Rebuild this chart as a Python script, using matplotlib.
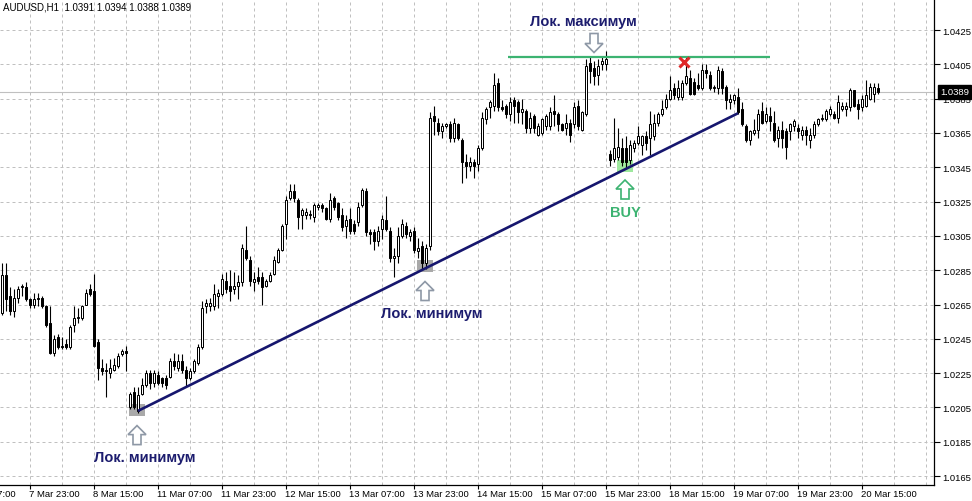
import matplotlib
matplotlib.use('Agg')
import matplotlib.pyplot as plt
import matplotlib.transforms as mtransforms
from matplotlib.patches import Polygon, Rectangle
import numpy as np

# AUDUSD H1, свечи по порядку (индекс бара)
opens = [1.0260, 1.0282, 1.0270, 1.0261, 1.0269, 1.0275, 1.0275, 1.0268, 1.0265, 1.0268,
         1.0269, 1.0264, 1.0254, 1.0237, 1.0246, 1.0240, 1.0242, 1.0240, 1.0253, 1.0257,
         1.0257, 1.0265, 1.0274, 1.0273, 1.0243, 1.0228, 1.0226, 1.0225, 1.0227, 1.0229,
         1.0236, 1.0238, 1.0205, 1.0214, 1.0203, 1.0213, 1.0218, 1.0225, 1.0219, 1.0224,
         1.0222, 1.0222, 1.0223, 1.0232, 1.0228, 1.0232, 1.0227, 1.0222, 1.0226, 1.0231,
         1.0240, 1.0264, 1.0264, 1.0264, 1.0270, 1.0271, 1.0279, 1.0276, 1.0274, 1.0276,
         1.0278, 1.0297, 1.0291, 1.0278, 1.0281, 1.0281, 1.0276, 1.0279, 1.0283, 1.0290,
         1.0297, 1.0312, 1.0327, 1.0331, 1.0326, 1.0317, 1.0317, 1.0317, 1.0316, 1.0322,
         1.0323, 1.0321, 1.0315, 1.0327, 1.0324, 1.0317, 1.0311, 1.0315, 1.0312, 1.0313,
         1.0323, 1.0331, 1.0307, 1.0307, 1.0302, 1.0309, 1.0314, 1.0308, 1.0292, 1.0293,
         1.0305, 1.0311, 1.0305, 1.0308, 1.0296, 1.0299, 1.0289, 1.0299, 1.0375, 1.0371,
         1.0366, 1.0369, 1.0370, 1.0362, 1.0370, 1.0361, 1.0348, 1.0346, 1.0348, 1.0347,
         1.0356, 1.0373, 1.0380, 1.0381, 1.0394, 1.0380, 1.0381, 1.0376, 1.0384, 1.0383,
         1.0377, 1.0378, 1.0368, 1.0375, 1.0364, 1.0365, 1.0369, 1.0369, 1.0378, 1.0376,
         1.0370, 1.0368, 1.0371, 1.0370, 1.0381, 1.0367, 1.0376, 1.0406, 1.0403, 1.0399,
         1.0405, 1.0405, 1.0353, 1.0350, 1.0351, 1.0356, 1.0356, 1.0349, 1.0356, 1.0359,
         1.0358, 1.0363, 1.0362, 1.0363, 1.0371, 1.0376, 1.0380, 1.0385, 1.0391, 1.0386,
         1.0386, 1.0394, 1.0397, 1.0395, 1.0393, 1.0391, 1.0402, 1.0399, 1.0391, 1.0391,
         1.0401, 1.0392, 1.0383, 1.0384, 1.0386, 1.0379, 1.0369, 1.0361, 1.0365, 1.0367,
         1.0378, 1.0372, 1.0375, 1.0371, 1.0362, 1.0367, 1.0366, 1.0366, 1.0369, 1.0368,
         1.0364, 1.0367, 1.0361, 1.0364, 1.0370, 1.0373, 1.0373, 1.0376, 1.0376, 1.0374,
         1.0379, 1.0379, 1.0380, 1.0390, 1.0382, 1.0380, 1.0381, 1.0385, 1.0388, 1.0391]
highs = [1.0289, 1.0289, 1.0275, 1.0274, 1.0276, 1.0277, 1.0278, 1.0269, 1.0272, 1.0272,
         1.0270, 1.0265, 1.0264, 1.0247, 1.0248, 1.0246, 1.0245, 1.0253, 1.0264, 1.0263,
         1.0265, 1.0274, 1.0277, 1.0283, 1.0245, 1.0233, 1.0231, 1.0233, 1.0234, 1.0237,
         1.0239, 1.0241, 1.0214, 1.0217, 1.0217, 1.0222, 1.0227, 1.0227, 1.0227, 1.0226,
         1.0223, 1.0224, 1.0234, 1.0237, 1.0236, 1.0236, 1.0229, 1.0228, 1.0233, 1.0242,
         1.0267, 1.0268, 1.0269, 1.0277, 1.0274, 1.0283, 1.0284, 1.0285, 1.0284, 1.0282,
         1.0300, 1.0311, 1.0293, 1.0284, 1.0287, 1.0284, 1.0280, 1.0284, 1.0293, 1.0298,
         1.0312, 1.0328, 1.0335, 1.0335, 1.0327, 1.0321, 1.0321, 1.0320, 1.0324, 1.0324,
         1.0324, 1.0322, 1.0330, 1.0328, 1.0325, 1.0321, 1.0317, 1.0321, 1.0314, 1.0325,
         1.0333, 1.0333, 1.0309, 1.0309, 1.0311, 1.0317, 1.0328, 1.0310, 1.0298, 1.0310,
         1.0315, 1.0313, 1.0309, 1.0310, 1.0304, 1.0302, 1.0300, 1.0377, 1.0381, 1.0374,
         1.0371, 1.0371, 1.0372, 1.0374, 1.0371, 1.0362, 1.0353, 1.0351, 1.0350, 1.0358,
         1.0377, 1.0380, 1.0384, 1.0400, 1.0397, 1.0384, 1.0382, 1.0386, 1.0386, 1.0384,
         1.0385, 1.0379, 1.0377, 1.0376, 1.0371, 1.0374, 1.0376, 1.0380, 1.0387, 1.0377,
         1.0371, 1.0376, 1.0373, 1.0383, 1.0384, 1.0378, 1.0408, 1.0409, 1.0407, 1.0408,
         1.0409, 1.0413, 1.0355, 1.0374, 1.0368, 1.0362, 1.0363, 1.0361, 1.0361, 1.0369,
         1.0364, 1.0366, 1.0378, 1.0376, 1.0377, 1.0384, 1.0388, 1.0398, 1.0394, 1.0396,
         1.0396, 1.0409, 1.0402, 1.0397, 1.0400, 1.0405, 1.0405, 1.0401, 1.0393, 1.0404,
         1.0403, 1.0393, 1.0388, 1.0388, 1.0391, 1.0383, 1.0370, 1.0367, 1.0373, 1.0379,
         1.0383, 1.0380, 1.0380, 1.0378, 1.0369, 1.0372, 1.0368, 1.0371, 1.0373, 1.0370,
         1.0369, 1.0369, 1.0368, 1.0372, 1.0374, 1.0376, 1.0379, 1.0381, 1.0378, 1.0387,
         1.0383, 1.0383, 1.0391, 1.0390, 1.0385, 1.0387, 1.0396, 1.0394, 1.0394, 1.0394]
lows = [1.0259, 1.0261, 1.0259, 1.0258, 1.0266, 1.0270, 1.0267, 1.0263, 1.0263, 1.0264,
        1.0263, 1.0252, 1.0236, 1.0235, 1.0239, 1.0239, 1.0239, 1.0239, 1.0249, 1.0254,
        1.0256, 1.0265, 1.0270, 1.0240, 1.0221, 1.0224, 1.0211, 1.0222, 1.0226, 1.0228,
        1.0235, 1.0226, 1.0204, 1.0204, 1.0202, 1.0212, 1.0217, 1.0216, 1.0217, 1.0218,
        1.0217, 1.0216, 1.0222, 1.0227, 1.0226, 1.0225, 1.0217, 1.0221, 1.0225, 1.0230,
        1.0239, 1.0260, 1.0261, 1.0262, 1.0263, 1.0270, 1.0272, 1.0267, 1.0271, 1.0268,
        1.0276, 1.0291, 1.0276, 1.0273, 1.0277, 1.0265, 1.0275, 1.0278, 1.0282, 1.0289,
        1.0296, 1.0303, 1.0326, 1.0325, 1.0309, 1.0309, 1.0315, 1.0315, 1.0313, 1.0320,
        1.0319, 1.0314, 1.0313, 1.0320, 1.0314, 1.0308, 1.0304, 1.0306, 1.0306, 1.0311,
        1.0322, 1.0305, 1.0300, 1.0297, 1.0299, 1.0303, 1.0308, 1.0290, 1.0281, 1.0289,
        1.0304, 1.0304, 1.0302, 1.0295, 1.0292, 1.0286, 1.0286, 1.0297, 1.0364, 1.0364,
        1.0362, 1.0368, 1.0360, 1.0360, 1.0361, 1.0336, 1.0339, 1.0343, 1.0339, 1.0343,
        1.0355, 1.0370, 1.0374, 1.0378, 1.0378, 1.0378, 1.0374, 1.0372, 1.0371, 1.0371,
        1.0370, 1.0365, 1.0365, 1.0365, 1.0363, 1.0364, 1.0367, 1.0367, 1.0369, 1.0366,
        1.0366, 1.0364, 1.0360, 1.0368, 1.0367, 1.0366, 1.0375, 1.0394, 1.0393, 1.0393,
        1.0402, 1.0402, 1.0346, 1.0348, 1.0349, 1.0346, 1.0344, 1.0347, 1.0354, 1.0358,
        1.0352, 1.0355, 1.0352, 1.0361, 1.0369, 1.0375, 1.0379, 1.0384, 1.0385, 1.0384,
        1.0384, 1.0393, 1.0387, 1.0387, 1.0390, 1.0390, 1.0397, 1.0390, 1.0389, 1.0388,
        1.0388, 1.0379, 1.0379, 1.0382, 1.0376, 1.0369, 1.0360, 1.0358, 1.0364, 1.0362,
        1.0370, 1.0371, 1.0366, 1.0360, 1.0357, 1.0356, 1.0350, 1.0361, 1.0366, 1.0362,
        1.0361, 1.0358, 1.0356, 1.0362, 1.0369, 1.0372, 1.0372, 1.0375, 1.0373, 1.0371,
        1.0378, 1.0375, 1.0378, 1.0380, 1.0373, 1.0378, 1.0380, 1.0384, 1.0383, 1.0388]
closes = [1.0282, 1.0268, 1.0261, 1.0269, 1.0274, 1.0276, 1.0268, 1.0265, 1.0268, 1.0269,
          1.0264, 1.0253, 1.0237, 1.0245, 1.0240, 1.0241, 1.0240, 1.0252, 1.0257, 1.0258,
          1.0264, 1.0272, 1.0271, 1.0241, 1.0228, 1.0226, 1.0227, 1.0228, 1.0230, 1.0235,
          1.0238, 1.0237, 1.0213, 1.0205, 1.0212, 1.0218, 1.0225, 1.0219, 1.0225, 1.0219,
          1.0219, 1.0218, 1.0232, 1.0229, 1.0232, 1.0227, 1.0222, 1.0226, 1.0232, 1.0240,
          1.0263, 1.0266, 1.0266, 1.0271, 1.0272, 1.0280, 1.0274, 1.0273, 1.0276, 1.0278,
          1.0298, 1.0292, 1.0279, 1.0280, 1.0279, 1.0275, 1.0279, 1.0282, 1.0291, 1.0297,
          1.0311, 1.0326, 1.0331, 1.0327, 1.0316, 1.0320, 1.0319, 1.0318, 1.0323, 1.0323,
          1.0321, 1.0315, 1.0326, 1.0322, 1.0316, 1.0310, 1.0314, 1.0308, 1.0308, 1.0322,
          1.0332, 1.0307, 1.0306, 1.0302, 1.0308, 1.0315, 1.0309, 1.0292, 1.0293, 1.0305,
          1.0312, 1.0306, 1.0307, 1.0297, 1.0298, 1.0289, 1.0298, 1.0374, 1.0372, 1.0366,
          1.0369, 1.0370, 1.0362, 1.0371, 1.0362, 1.0348, 1.0346, 1.0348, 1.0346, 1.0356,
          1.0374, 1.0379, 1.0383, 1.0393, 1.0380, 1.0379, 1.0376, 1.0383, 1.0381, 1.0377,
          1.0379, 1.0368, 1.0374, 1.0368, 1.0369, 1.0373, 1.0375, 1.0377, 1.0376, 1.0370,
          1.0367, 1.0371, 1.0364, 1.0380, 1.0369, 1.0377, 1.0404, 1.0401, 1.0398, 1.0404,
          1.0407, 1.0408, 1.0349, 1.0356, 1.0357, 1.0348, 1.0348, 1.0358, 1.0359, 1.0363,
          1.0363, 1.0359, 1.0370, 1.0371, 1.0376, 1.0379, 1.0385, 1.0390, 1.0387, 1.0391,
          1.0394, 1.0398, 1.0388, 1.0388, 1.0391, 1.0402, 1.0400, 1.0391, 1.0392, 1.0402,
          1.0391, 1.0384, 1.0385, 1.0387, 1.0377, 1.0370, 1.0361, 1.0366, 1.0367, 1.0376,
          1.0371, 1.0376, 1.0372, 1.0361, 1.0367, 1.0362, 1.0357, 1.0370, 1.0372, 1.0366,
          1.0367, 1.0364, 1.0364, 1.0370, 1.0373, 1.0374, 1.0378, 1.0379, 1.0374, 1.0383,
          1.0381, 1.0381, 1.0390, 1.0381, 1.0379, 1.0385, 1.0387, 1.0392, 1.0392, 1.0389]

symbol = 'AUDUSD,H1'
bid = 1.0389
price_ticks = [1.0165, 1.0185, 1.0205, 1.0225, 1.0245, 1.0265, 1.0285,
               1.0305, 1.0325, 1.0345, 1.0365, 1.0385, 1.0405, 1.0425]
x_label_bars = [-9, 7, 23, 39, 55, 71, 87, 103, 119, 135, 151, 167, 183, 199, 215]
x_labels = ['7 Mar 07:00', '7 Mar 23:00', '8 Mar 15:00', '11 Mar 07:00', '11 Mar 23:00',
            '12 Mar 15:00', '13 Mar 07:00', '13 Mar 23:00', '14 Mar 15:00', '15 Mar 07:00',
            '15 Mar 23:00', '18 Mar 15:00', '19 Mar 07:00', '19 Mar 23:00', '20 Mar 15:00']

# трендовая линия и уровень
trend_bars = [34, 184]
trend_prices = [1.0203, 1.03765]
resistance = 1.0409
resistance_bars = [126.5, 192]
low1_bar, low2_bar, buy_bar, max_bar = 34, 106, 156, 148
cross_bar, cross_price = 170.5, 1.04065

plt.rcParams['font.family'] = ['Liberation Sans', 'DejaVu Sans']

fig = plt.figure(figsize=(9.72, 5.02), dpi=100)
ax = fig.add_axes([0, 16 / 502, 934 / 972, 486 / 502])
ax.set_xlim(-0.5, 233.0)
ax.set_ylim(1.01598, 1.04431)

o = np.array(opens)
h = np.array(highs)
l = np.array(lows)
c = np.array(closes)
idx = np.arange(len(o))
up = c >= o

# сетка
grid_kw = dict(color='#c0c0c0', lw=0.72, ls=(0, (3, 3)), zorder=0)
for b in range(7, 234, 8):
    ax.axvline(b, **grid_kw)
for p in price_ticks:
    ax.axhline(p, **grid_kw)
ax.axhline(bid, color='#c0c0c0', lw=0.8, zorder=1)

# рамки у минимумов и BUY
def mark_box(bar, color):
    ax.add_patch(Rectangle((bar - 2.25, l[bar] - 0.0002), 4, 0.0007,
                           facecolor=color, edgecolor='none', zorder=2))

mark_box(low1_bar, '#a9a9a9')
mark_box(low2_bar, '#a9a9a9')
mark_box(buy_bar, '#9ee89e')

# свечи
ax.vlines(idx, l, h, color='black', lw=0.8, zorder=3)
body = np.maximum(np.abs(c - o), 0.00002)
ax.bar(idx[up], body[up], bottom=o[up], width=0.5, facecolor='white',
       edgecolor='black', lw=0.72, zorder=4)
ax.bar(idx[~up], body[~up], bottom=c[~up], width=0.5, facecolor='black',
       edgecolor='black', lw=0.72, zorder=4)

ax.plot(trend_bars, trend_prices, color='#16166e', lw=1.9, zorder=6,
        solid_capstyle='butt')
ax.hlines(resistance, resistance_bars[0], resistance_bars[1], color='#3cb371',
          lw=1.6, zorder=6)
ax.plot(cross_bar, cross_price, marker='x', color='#e02828', ms=7.5, mew=2.2,
        zorder=7)


# стрелки (в пикселях от точки)
def arrow(bar, price, dy, color, down=False):
    s = -1 if down else 1
    verts = [(0, 0), (9, -9 * s), (4, -9 * s), (4, -19 * s), (-4, -19 * s),
             (-4, -9 * s), (-9, -9 * s)]
    tr = mtransforms.Affine2D().translate(0, dy) + \
        mtransforms.ScaledTranslation(bar, price, ax.transData)
    ax.add_patch(Polygon(verts, closed=True, transform=tr, facecolor='white',
                         edgecolor=color, lw=1.2, zorder=8, clip_on=False))


arrow(low1_bar - 0.25, l[low1_bar], -13, '#8e98a6')
arrow(low2_bar - 0.25, l[low2_bar], -13, '#8e98a6')
arrow(buy_bar - 0.25, l[buy_bar], -11, '#3cb371')
arrow(max_bar, resistance, 5, '#8e98a6', down=True)

txt_kw = dict(textcoords='offset pixels', ha='center', va='center',
              fontsize=10.5, fontweight='bold', color='#1c1c6e', zorder=9)
ax.annotate('Лок. минимум', xy=(low1_bar - 0.25, l[low1_bar]), xytext=(8, -44), **txt_kw)
ax.annotate('Лок. минимум', xy=(low2_bar - 0.25, l[low2_bar]), xytext=(7, -44), **txt_kw)
ax.annotate('Лок. максимум', xy=(max_bar, resistance), xytext=(-11, 36), **txt_kw)
txt_kw['color'] = '#3cb371'
ax.annotate('BUY', xy=(buy_bar - 0.25, l[buy_bar]), xytext=(0, -43), **txt_kw)

# подпись инструмента
title = '%s  %.4f %.4f %.4f %.4f' % (symbol, o[-1], h[-1], l[-1], c[-1])
ax.annotate(title, xy=(0, 1), xycoords='axes fraction', xytext=(3, -7),
            textcoords='offset pixels', ha='left', va='center', fontsize=7)

# оси
for s in ['top', 'left']:
    ax.spines[s].set_visible(False)
for s in ['right', 'bottom']:
    ax.spines[s].set_linewidth(0.9)
    ax.spines[s].set_color('black')

ax.yaxis.tick_right()
ax.set_yticks(price_ticks)
ax.set_yticklabels(['%.4f' % p for p in price_ticks])
ax.tick_params(axis='y', direction='out', length=4, width=0.8, pad=2, labelsize=6.8)

vis = [b for b in x_label_bars if b >= 0]
ax.set_xticks(vis)
ax.set_xticklabels([])
ax.tick_params(axis='x', direction='out', length=3, width=0.8)
for b, lab in zip(x_label_bars, x_labels):
    ax.annotate(lab, xy=(b, 0), xycoords=('data', 'axes fraction'), xytext=(-1, -9),
                textcoords='offset pixels', ha='left', va='center', fontsize=6.8,
                annotation_clip=False)

# метка текущей цены
ax.annotate('%.4f' % bid, xy=(1, bid), xycoords=('axes fraction', 'data'),
            xytext=(6, 0), textcoords='offset pixels', ha='left', va='center',
            fontsize=6.8, color='white', zorder=10, annotation_clip=False,
            bbox=dict(boxstyle='square,pad=0.25', facecolor='black', edgecolor='black'))

plt.savefig('out.png', dpi=100)
